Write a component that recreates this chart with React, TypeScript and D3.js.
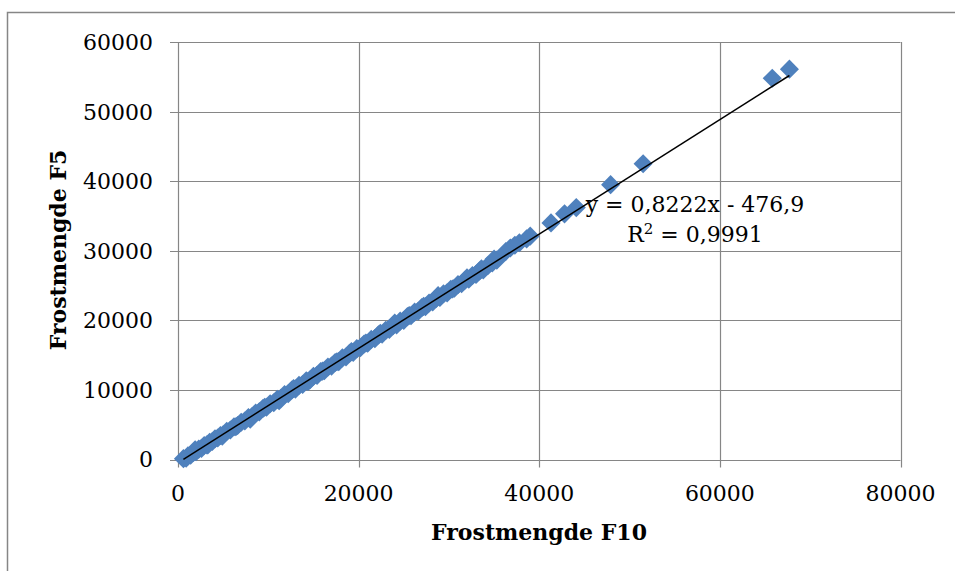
import React from "react";
import * as d3 from "d3";

const F10 = [600, 900, 1100, 1400, 1700, 2000, 2300, 2600, 2900, 3200, 3500, 3800, 4100, 4400, 4700, 5000, 5400, 5800, 6200, 6600, 7000, 7400, 7800, 8200, 8600, 9000, 9400, 9800, 10200, 10600, 11000, 11400, 11800, 12200, 12600, 13000, 13400, 13800, 14200, 14600, 15000, 15400, 15800, 16200, 16600, 17000, 17400, 17800, 18200, 18600, 19000, 19400, 19800, 20200, 20600, 21000, 21400, 21800, 22200, 22600, 23000, 23400, 23800, 24200, 24600, 25000, 25400, 25800, 26200, 26600, 27000, 27400, 27800, 28200, 28600, 29000, 29400, 29800, 30200, 30600, 31000, 31400, 31800, 32200, 32600, 33000, 33400, 33800, 34300, 34800, 35300, 36300, 36800, 37300, 37800, 38600, 39000, 41300, 42800, 44100, 47900, 51500, 65800, 67700,
  1900, 3300, 4900, 6400, 8000, 9600, 11200, 12800, 14400, 16000, 17600, 19200, 20800, 22400, 24000, 25600, 27200, 28800, 30400, 32000, 33600, 35000];
const F5 = [120, 180, 520, 610, 1010, 1120, 1490, 1600, 2010, 2100, 2480, 2590, 2980, 3080, 3460, 3560, 4050, 4230, 4700, 4880, 5360, 5540, 6030, 6190, 6680, 6850, 7340, 7500, 8010, 8150, 8660, 8800, 9330, 9460, 9990, 10120, 10650, 10780, 11310, 11430, 11960, 12090, 12630, 12760, 13290, 13420, 13950, 14070, 14610, 14730, 15270, 15390, 15930, 16060, 16590, 16710, 17260, 17370, 17910, 18020, 18560, 18680, 19220, 19340, 19880, 20000, 20530, 20650, 21180, 21310, 21840, 21970, 22500, 22630, 23160, 23280, 23810, 23940, 24470, 24600, 25130, 25250, 25790, 25910, 26450, 26580, 27110, 27240, 27850, 28260, 28650, 29900, 30400, 30800, 31150, 31700, 32100, 34000, 35300, 36200, 39500, 42500, 54800, 56100,
  1400, 2100, 3350, 4700, 5800, 7500, 8450, 10200, 11200, 12700, 14050, 15500, 16750, 18150, 19600, 20700, 22000, 23550, 24500, 26100, 27400, 28800];

const xTicks = [0, 20000, 40000, 60000, 80000];
const yTicks = [0, 10000, 20000, 30000, 40000, 50000, 60000];
const slope = 0.8222;
const intercept = -476.9;
const eqText = "y = 0,8222x - 476,9";
const r2Text = " = 0,9991";

const W = 955, H = 571;
const L = 178, R = 900.5, T = 42, B = 459.5;

export default function App() {
  const x = d3.scaleLinear().domain([0, 80000]).range([L, R]);
  const y = d3.scaleLinear().domain([0, 60000]).range([B, T]);
  const grid = "#868686";
  const font = "DejaVu Serif";
  const xmin = d3.min(F10)!, xmax = d3.max(F10)!;
  const s = 13.5;
  return (
    <svg width={W} height={H} style={{ position: "absolute", left: 0, top: 0 }}>
      <rect x={0} y={0} width={W} height={H} fill="#fff" />
      <rect x={7.5} y={12.5} width={1000} height={600} fill="none" stroke={grid} strokeWidth={1.5} />
      {yTicks.map((t) => (
        <g key={"y" + t}>
          <line x1={L - 8} x2={R} y1={Math.round(y(t)) + 0.5} y2={Math.round(y(t)) + 0.5} stroke={grid} strokeWidth={1.2} />
          <text x={153} y={y(t)} dy="0.36em" textAnchor="end" fontFamily={font} fontSize={22} fill="#000">{t}</text>
        </g>
      ))}
      {xTicks.map((t) => (
        <g key={"x" + t}>
          <line x1={Math.round(x(t)) + 0.5} x2={Math.round(x(t)) + 0.5} y1={T} y2={B + 8} stroke={grid} strokeWidth={1.2} />
          <text x={x(t)} y={501} textAnchor="middle" fontFamily={font} fontSize={22} fill="#000">{t}</text>
        </g>
      ))}
      {F10.map((v, i) => (
        <rect key={i} x={-s / 2} y={-s / 2} width={s} height={s} fill="#4F81BD"
          transform={`translate(${x(v)},${y(F5[i])}) rotate(45)`} />
      ))}
      <line x1={x(xmin)} y1={y(slope * xmin + intercept)} x2={x(xmax)} y2={y(slope * xmax + intercept)} stroke="#000" strokeWidth={1.5} />
      <text x={695} y={212} textAnchor="middle" fontFamily={font} fontSize={22} fill="#000">{eqText}</text>
      <text x={695} y={242} textAnchor="middle" fontFamily={font} fontSize={22} fill="#000">R<tspan fontSize={15} dy={-8}>2</tspan><tspan dy={8}>{r2Text}</tspan></text>
      <text x={539} y={540} textAnchor="middle" fontFamily={font} fontWeight="bold" fontSize={22} fill="#000">Frostmengde F10</text>
      <text transform="translate(66,250) rotate(-90)" textAnchor="middle" fontFamily={font} fontWeight="bold" fontSize={22} fill="#000">Frostmengde F5</text>
    </svg>
  );
}
